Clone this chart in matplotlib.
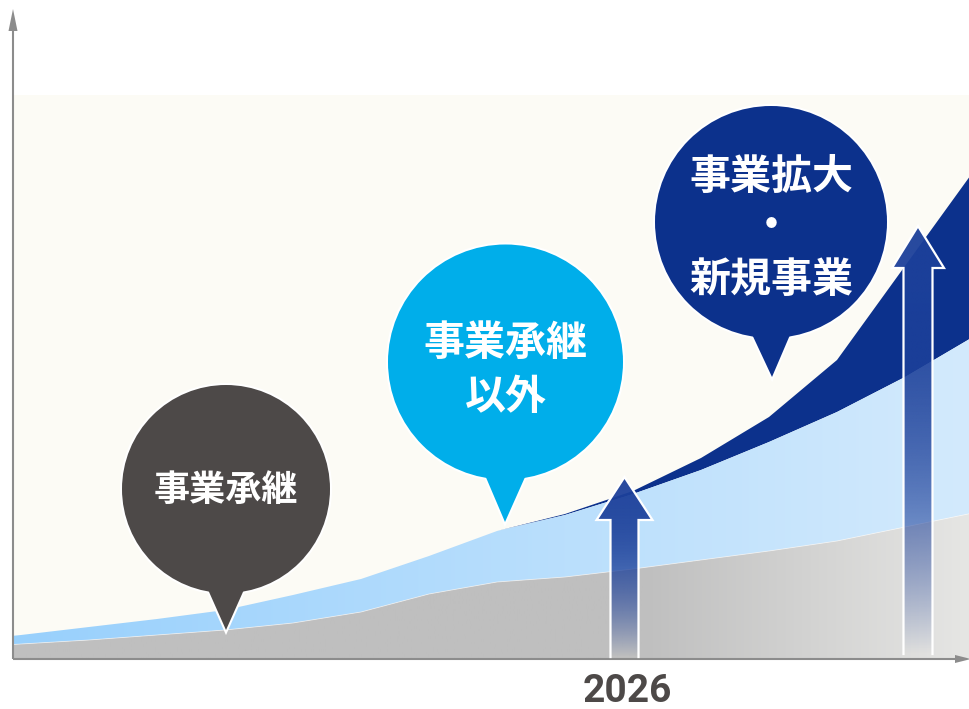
import numpy as np
import matplotlib.pyplot as plt
from matplotlib.patches import Circle, Polygon
from matplotlib.colors import to_rgb

plt.rcParams['font.family'] = ['Noto Sans CJK JP', 'DejaVu Sans']

# data (arbitrary units, stacked)
years = np.arange(2016, 2032)
succession = [10, 14, 18, 23, 28, 35, 46, 64, 76, 81, 89, 98, 107, 117, 131, 145]
other_biz = [6, 9, 13, 16, 20, 28, 33, 38, 51, 62, 75, 90, 109, 129, 150, 176]
new_biz = [0, 0, 0, 0, 0, 0, 0, 0, 0, 1, 3, 12, 25, 52, 111, 165]
tick_year = 2026

bubble_labels = [["事業承継"], ["事業承継", "以外"], ["事業拡大", "・", "新規事業"]]
bubble_colors = ["#4d4948", "#00aeea", "#0c318c"]

W, H = 970, 709
fig = plt.figure(figsize=(W / 100, H / 100), dpi=100)
fig.patch.set_facecolor("white")

# main axes: 68 px per year, 2026 sits at x=633 px
ax = fig.add_axes([13 / W, 51 / H, 957 / W, 648 / H])
x0 = tick_year + (13 - 633) / 68
x1 = tick_year + (970 - 633) / 68
ax.axis("off")
ax.axhspan(0, 563, color="#fcfbf5", zorder=0, lw=0)

y1 = np.array(succession, float)
y2 = y1 + np.array(other_biz)
y3 = y2 + np.array(new_biz)


def grad_fill(lo, hi, c_left, c_right, start=0.0, z=1):
    poly = ax.fill_between(years, lo, hi, facecolor="none", edgecolor="none", zorder=z)
    t = np.clip((np.linspace(0, 1, 400) - start) / (1 - start), 0, 1)
    cl, cr = np.array(to_rgb(c_left)), np.array(to_rgb(c_right))
    img = cl[None, :] * (1 - t[:, None]) + cr[None, :] * t[:, None]
    im = ax.imshow(img[None, :, :], extent=(x0, x1, 0, 648), aspect="auto",
                   zorder=z, interpolation="bilinear")
    im.set_clip_path(poly.get_paths()[0], transform=ax.transData)


ax.fill_between(years, y2, y3, color="#0c318c", lw=0, zorder=1)
grad_fill(y1, y2, "#98d0fc", "#d3eafd", 0.0, 2)
grad_fill(np.zeros_like(y1), y1, "#bfbfbf", "#e6e6e4", 0.66, 3)
ax.plot(years, y1, color="white", lw=0.6, alpha=0.6, zorder=4)
ax.set_xlim(x0, x1)
ax.set_ylim(0, 648)

# overlay in pixel coords for axes arrows, bubbles and arrows
deco = fig.add_axes([0, 0, 1, 1], zorder=5)
deco.axis("off")
axis_c = "#8c8c8c"
deco.plot([13, 13], [659, 28], color=axis_c, lw=1.5, solid_capstyle="butt")
deco.add_patch(Polygon([(13, 9), (8.5, 31), (17.5, 31)], fc=axis_c, ec="none"))
deco.plot([13, 958], [659, 659], color=axis_c, lw=1.5, solid_capstyle="butt")
deco.add_patch(Polygon([(971, 659), (955, 655), (955, 663)], fc=axis_c, ec="none"))


def bubble(cx, cy, r, tip, half, color, lines, size, line_ys):
    base_y = cy + np.sqrt(r ** 2 - half ** 2) - 8
    tri = [(cx - half, base_y), (cx + half, base_y), tip]
    for lw, ec, z in ((3, "white", 6), (0, color, 7)):
        deco.add_patch(Circle((cx, cy), r, fc=color, ec=ec, lw=lw, zorder=z))
        deco.add_patch(Polygon(tri, fc=color, ec=ec, lw=lw, zorder=z, joinstyle="miter"))
    for txt, ly in zip(lines, line_ys):
        deco.text(cx, ly, txt, color="white", fontsize=size, weight="bold",
                  ha="center", va="center", zorder=8)


bubble(226, 489, 104, (226, 630), 21, bubble_colors[0], bubble_labels[0], 26, [490])
bubble(505.5, 362, 117.5, (505, 522), 23, bubble_colors[1], bubble_labels[1], 29.5, [343, 397])
bubble(771, 222, 116, (772, 377), 22, bubble_colors[2], bubble_labels[2], 29.5, [177, 227, 280])


def up_arrow(cx, tip, head_base, head_half, shaft_half, bottom):
    pts = [(cx - shaft_half, bottom), (cx - shaft_half, head_base),
           (cx - head_half, head_base), (cx, tip), (cx + head_half, head_base),
           (cx + shaft_half, head_base), (cx + shaft_half, bottom)]
    poly = Polygon(pts, closed=True, fc="none", ec="none", zorder=9)
    deco.add_patch(poly)
    t = np.linspace(0, 1, 300)
    grad = np.zeros((300, 1, 4))
    grad[:, 0, :3] = to_rgb("#1c409a")
    grad[:, 0, 3] = 0.95 * (1 - t ** 2.5)
    im = deco.imshow(grad, extent=(cx - head_half, cx + head_half, bottom, tip),
                     aspect="auto", zorder=9, interpolation="bilinear")
    im.set_clip_path(poly)
    xs, ys = zip(*pts)
    deco.plot(xs, ys, color="white", lw=1.6, zorder=10, solid_joinstyle="miter")


up_arrow(624.5, 477, 520, 28, 14, 657)
up_arrow(918, 226, 268, 26, 14.5, 654)

deco.set_xlim(0, W)
deco.set_ylim(H, 0)

deco.text(627, 702, str(tick_year), fontsize=28, weight="bold", color="#4d4948",
          family=["Roboto", "DejaVu Sans"], ha="center", va="baseline")

fig.savefig("out.png", dpi=100)
